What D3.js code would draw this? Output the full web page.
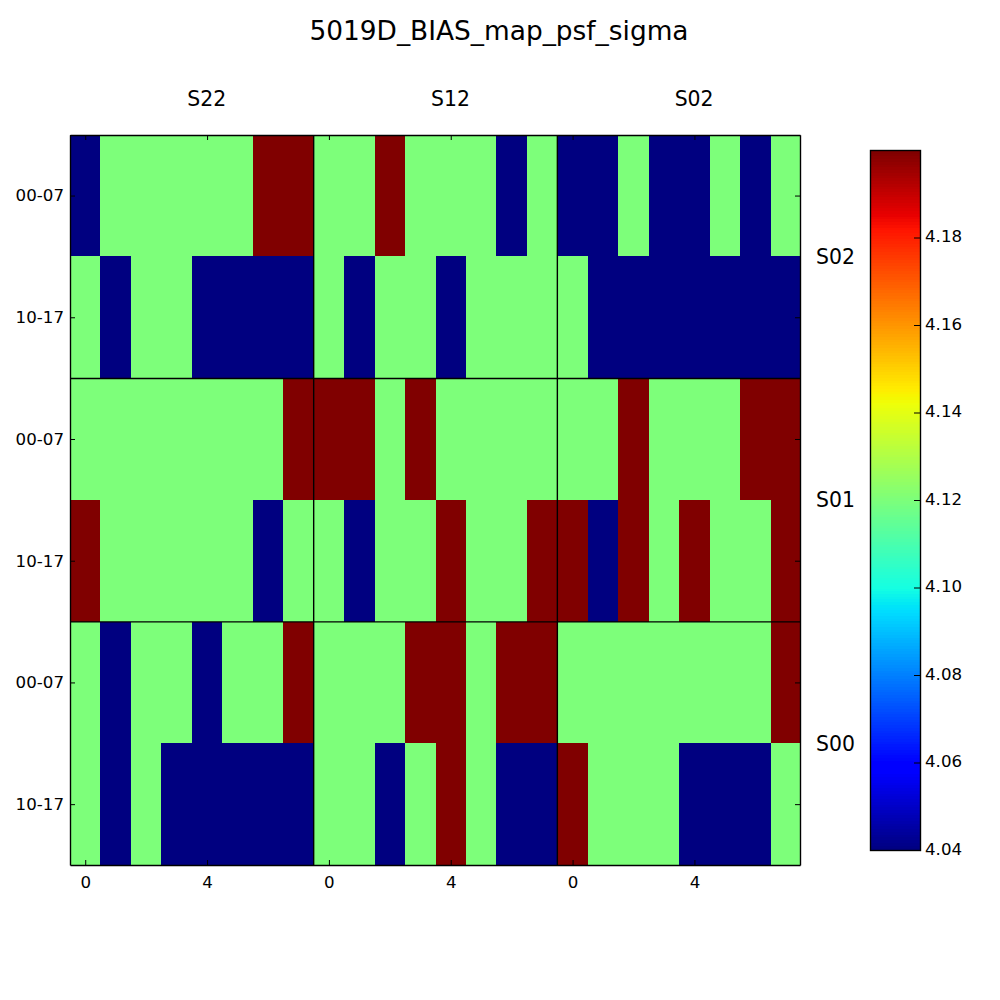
<!DOCTYPE html>
<html>
<head>
<meta charset="utf-8">
<title>5019D_BIAS_map_psf_sigma</title>
<script src="https://d3js.org/d3.v7.min.js"></script>
<style>
body { margin: 0; background: #fff; }
svg { display: block; font-family: "DejaVu Sans"; }
.axis path { stroke: #000; stroke-width: 1.39px; fill: none; }
.axis line { stroke: #000; stroke-width: 1px; fill: none; }
.axis text { font-family: "DejaVu Sans"; font-size: 16.67px; fill: #000; }
</style>
</head>
<body>
<svg width="1000" height="1000"></svg>
<script>
var L = 4.04, M = 4.12, H = 4.2;

var title = "5019D_BIAS_map_psf_sigma";
var topLabels = ["S22", "S12", "S02"];
var sideLabels = ["S02", "S01", "S00"];
var rowLabels = ["00-07", "10-17", "00-07", "10-17", "00-07", "10-17"];
var colTicks = [0, 4, 8, 12, 16, 20];
var colTickLabels = ["0", "4", "0", "4", "0", "4"];
var barTicks = [4.04, 4.06, 4.08, 4.10, 4.12, 4.14, 4.16, 4.18];

// one array per row, top to bottom, 24 columns each
var row0 = [L,M,M,M,M,M,H,H, M,M,H,M,M,M,L,M, L,L,M,L,L,M,L,M];
var row1 = [M,L,M,M,L,L,L,L, M,L,M,M,L,M,M,M, M,L,L,L,L,L,L,L];
var row2 = [M,M,M,M,M,M,M,H, H,H,M,H,M,M,M,M, M,M,H,M,M,M,H,H];
var row3 = [H,M,M,M,M,M,L,M, M,L,M,M,H,M,M,H, H,L,H,M,H,M,M,H];
var row4 = [M,L,M,M,L,M,M,H, M,M,M,H,H,M,H,H, M,M,M,M,M,M,M,H];
var row5 = [M,L,M,L,L,L,L,L, M,M,L,M,H,M,L,L, H,M,M,M,L,L,L,M];
var rows = [row0, row1, row2, row3, row4, row5];

var svg = d3.select("svg");

// last column runs slightly past the frame and gets clipped, same as the original
var x = d3.scaleLinear().domain([-0.5, 23.466]).range([70, 800]);
var y = d3.scaleLinear().domain([0, 6]).range([134.7, 865]);
var barY = d3.scaleLinear().domain([4.04, 4.2]).range([850, 150]);

// matplotlib jet
var red = d3.scaleLinear().domain([0, 0.35, 0.66, 0.89, 1]).range([0, 0, 1, 1, 0.5]);
var green = d3.scaleLinear().domain([0, 0.125, 0.375, 0.64, 0.91, 1]).range([0, 0, 1, 1, 0, 0]);
var blue = d3.scaleLinear().domain([0, 0.11, 0.34, 0.65, 1]).range([0.5, 1, 1, 0, 0]);
function jet(t) {
	t = Math.min(255, Math.floor(t * 256)) / 255;
	return d3.rgb(red(t) * 255, green(t) * 255, blue(t) * 255).formatHex();
}
var norm = d3.scaleLinear().domain([4.04, 4.2]).range([0, 1]);

svg.append("clipPath")
	.attr("id", "plot-clip")
	.append("rect")
	.attr("x", 70)
	.attr("y", 135)
	.attr("width", 730)
	.attr("height", 730);

// cells
var cells = svg.append("g").attr("clip-path", "url(#plot-clip)");
rows.forEach(function(row, r) {
	cells.append("g").selectAll("rect")
		.data(row)
		.enter()
		.append("rect")
		.attr("x", function(d, i) { return x(i - 0.5); })
		.attr("y", y(r))
		.attr("width", x(1) - x(0))
		.attr("height", y(1) - y(0))
		.attr("shape-rendering", "crispEdges")
		.attr("fill", function(d) { return jet(norm(d)); });
});

// block separators
svg.append("g").selectAll("line")
	.data([7.5, 15.5])
	.enter()
	.append("line")
	.attr("x1", function(d) { return x(d); })
	.attr("x2", function(d) { return x(d); })
	.attr("y1", 135)
	.attr("y2", 865)
	.attr("stroke", "#000")
	.attr("stroke-width", 1.39);
svg.append("g").selectAll("line")
	.data([2, 4])
	.enter()
	.append("line")
	.attr("x1", 70)
	.attr("x2", 800)
	.attr("y1", function(d) { return y(d) + 0.3; })
	.attr("y2", function(d) { return y(d) + 0.3; })
	.attr("stroke", "#000")
	.attr("stroke-width", 1.39);

// axes, ticks point inward
var tickLen = 5;
var rowCentres = d3.range(6).map(function(d) { return d + 0.5; });

svg.append("g").attr("class", "axis")
	.attr("transform", "translate(0,865)")
	.call(d3.axisBottom(x).tickValues(colTicks).tickSizeInner(-tickLen).tickSizeOuter(0)
		.tickPadding(11).tickFormat(function(d, i) { return colTickLabels[i]; }));
svg.append("g").attr("class", "axis")
	.attr("transform", "translate(0,135)")
	.call(d3.axisTop(x).tickValues(colTicks).tickSizeInner(-tickLen).tickSizeOuter(0).tickFormat(""));
svg.append("g").attr("class", "axis")
	.attr("transform", "translate(70,0)")
	.call(d3.axisLeft(y).tickValues(rowCentres).tickSizeInner(-tickLen).tickSizeOuter(0)
		.tickPadding(6).tickFormat(function(d, i) { return rowLabels[i]; }));
svg.append("g").attr("class", "axis")
	.attr("transform", "translate(800,0)")
	.call(d3.axisRight(y).tickValues(rowCentres).tickSizeInner(-tickLen).tickSizeOuter(0).tickFormat(""));

// block labels
svg.append("g").selectAll("text")
	.data(topLabels)
	.enter()
	.append("text")
	.attr("x", function(d, i) { return x(4 + i * 8) - 0.3; })
	.attr("y", 106)
	.attr("text-anchor", "middle")
	.attr("font-size", 20.4)
	.text(function(d) { return d; });
svg.append("g").selectAll("text")
	.data(sideLabels)
	.enter()
	.append("text")
	.attr("x", 816)
	.attr("y", function(d, i) { return y(1 + i * 2) + 7.5; })
	.attr("font-size", 20.4)
	.text(function(d) { return d; });

svg.append("text")
	.attr("x", 499)
	.attr("y", 40)
	.attr("text-anchor", "middle")
	.attr("font-size", 26.4)
	.text(title);

// colour bar
var levels = d3.range(256);
svg.append("g").selectAll("rect")
	.data(levels)
	.enter()
	.append("rect")
	.attr("x", 870)
	.attr("width", 50)
	.attr("y", function(d) { return barY(norm.invert((d + 1) / 256)); })
	.attr("height", barY(norm.invert(0)) - barY(norm.invert(1 / 256)) + 1)
	.attr("shape-rendering", "crispEdges")
	.attr("fill", function(d) { return jet((d + 0.5) / 256); });

svg.append("rect")
	.attr("x", 870.5)
	.attr("y", 150.5)
	.attr("width", 50)
	.attr("height", 700)
	.attr("fill", "none")
	.attr("stroke", "#000")
	.attr("stroke-width", 1.39);

var barAxis = svg.append("g").attr("class", "axis")
	.attr("transform", "translate(920,0)")
	.call(d3.axisRight(barY).tickValues(barTicks).tickSizeInner(-6).tickSizeOuter(0)
		.tickPadding(5).tickFormat(d3.format(".2f")));
barAxis.select(".domain").remove();
barAxis.selectAll("text").attr("y", -1);
</script>
</body>
</html>
